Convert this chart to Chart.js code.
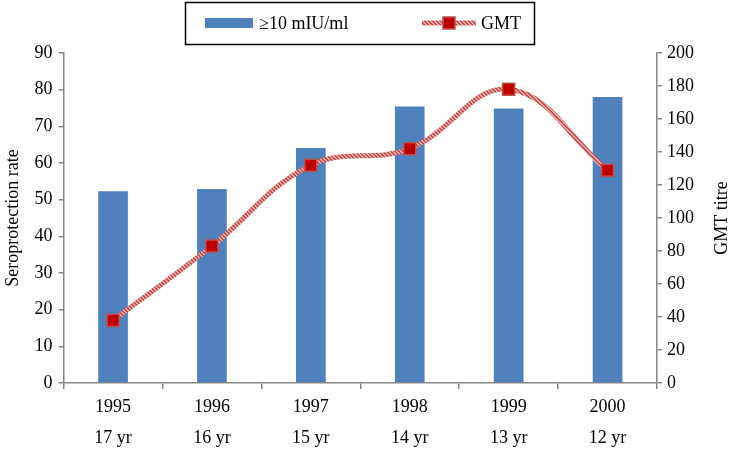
<!DOCTYPE html>
<html><head><meta charset="utf-8">
<script src="https://cdn.jsdelivr.net/npm/chart.js@4"></script>
<style>html,body{margin:0;padding:0;background:#fff}#wrap{width:731px;height:454px;position:relative}</style>
</head><body><div id="wrap"><canvas id="c" width="731" height="454"></canvas></div>
<script>
const years = ['1995', '1996', '1997', '1998', '1999', '2000'];
const ages = ['17 yr', '16 yr', '15 yr', '14 yr', '13 yr', '12 yr'];
const seroprotection = [52.3, 52.9, 64.1, 75.4, 74.9, 78.0];
const gmt = [38, 83, 132, 142, 178, 129];
const seriesNames = ['\u226510 mIU/ml', 'GMT'];
const axisTitles = ['Seroprotection rate', 'GMT titre'];

const FONT = "'Liberation Serif', 'Times New Roman', serif";
const BAR = '#4F81BD';
const LINE = '#C0504D';
const MARK = '#C00000';
const AXIS = '#868686';

function hatch() {
  const c = document.createElement('canvas');
  c.width = 4; c.height = 4;
  const g = c.getContext('2d');
  g.fillStyle = '#E4A9A7'; g.fillRect(0, 0, 4, 4);
  g.fillStyle = LINE;
  for (let i = 0; i < 4; i++) { g.fillRect(i, (i) % 4, 1, 1); g.fillRect(i, (i + 1) % 4, 1, 1); }
  return g.createPattern(c, 'repeat');
}
const linePattern = hatch();

const labels = years.map((y, i) => [y, ages[i]]);

const legendBox = {
  id: 'legendBox',
  afterDraw(chart) {
    const ctx = chart.ctx, ca = chart.chartArea;
    const w = 349, h = 42;
    const x = Math.round((ca.left + ca.right) / 2 - 1 - w / 2), y = 2;
    ctx.save();
    ctx.strokeStyle = '#000'; ctx.lineWidth = 1.5;
    ctx.strokeRect(x + 0.5, y + 0.5, w, h);
    const cy = y + h / 2;
    ctx.fillStyle = BAR;
    ctx.fillRect(x + 20, cy - 5, 48, 10);
    ctx.font = '18px ' + FONT; ctx.fillStyle = '#000'; ctx.textBaseline = 'middle';
    ctx.fillText(seriesNames[0], x + 74, cy + 1);
    ctx.strokeStyle = linePattern; ctx.lineWidth = 5;
    ctx.beginPath(); ctx.moveTo(x + 237, cy); ctx.lineTo(x + 291, cy); ctx.stroke();
    ctx.fillStyle = MARK; ctx.strokeStyle = LINE; ctx.lineWidth = 1.5;
    ctx.fillRect(x + 258, cy - 6, 12, 12); ctx.strokeRect(x + 258, cy - 6, 12, 12);
    ctx.fillStyle = '#000';
    ctx.fillText(seriesNames[1], x + 296, cy + 1);
    // right axis title, rotated to read bottom-to-top
    ctx.save();
    ctx.translate(chart.width - 9, (ca.top + ca.bottom) / 2);
    ctx.rotate(-Math.PI / 2);
    ctx.textAlign = 'center'; ctx.textBaseline = 'middle';
    ctx.fillText(axisTitles[1], 0, 0);
    ctx.restore();
    ctx.restore();
  }
};

const tickFont = { family: FONT, size: 18 };

new Chart(document.getElementById('c'), {
  data: {
    labels: labels,
    datasets: [
      { type: 'line', label: seriesNames[1], data: gmt, yAxisID: 'y2', order: 0,
        borderColor: linePattern, borderWidth: 5, tension: 0.4, fill: false,
        pointStyle: 'rect', pointRadius: 8.5, pointHoverRadius: 8.5,
        pointBackgroundColor: MARK, pointBorderColor: LINE, pointBorderWidth: 1.5 },
      { type: 'bar', label: seriesNames[0], data: seroprotection, yAxisID: 'y', order: 1,
        backgroundColor: BAR, borderWidth: 0, barPercentage: 0.3, categoryPercentage: 1 }
    ]
  },
  options: {
    responsive: false, animation: false, maintainAspectRatio: false,
    layout: { padding: { top: 53, left: 0, right: 32, bottom: -3 } },
    plugins: { legend: { display: false }, tooltip: { enabled: false } },
    scales: {
      x: {
        offset: true,
        grid: { offset: true, drawOnChartArea: false, drawTicks: true, tickLength: 6, color: AXIS, lineWidth: 1.5 },
        border: { color: AXIS, width: 1.5 },
        ticks: { font: { family: FONT, size: 18, lineHeight: 1.72 }, color: '#000', padding: 3, maxRotation: 0 }
      },
      y: {
        position: 'left', min: 0, max: 90,
        grid: { drawOnChartArea: false, tickLength: 5, color: AXIS, lineWidth: 1.5 },
        border: { color: AXIS, width: 1.5 },
        ticks: { stepSize: 10, font: tickFont, color: '#000', padding: 6 },
        title: { display: true, text: axisTitles[0], font: { family: FONT, size: 18 }, color: '#000', padding: { top: 2, bottom: 5 } }
      },
      y2: {
        position: 'right', min: 0, max: 200,
        grid: { drawOnChartArea: false, tickLength: 5, color: AXIS, lineWidth: 1.5 },
        border: { color: AXIS, width: 1.5 },
        ticks: { stepSize: 20, font: tickFont, color: '#000', padding: 5 },
        title: { display: false }
      }
    }
  },
  plugins: [legendBox]
});
</script>
</body></html>
